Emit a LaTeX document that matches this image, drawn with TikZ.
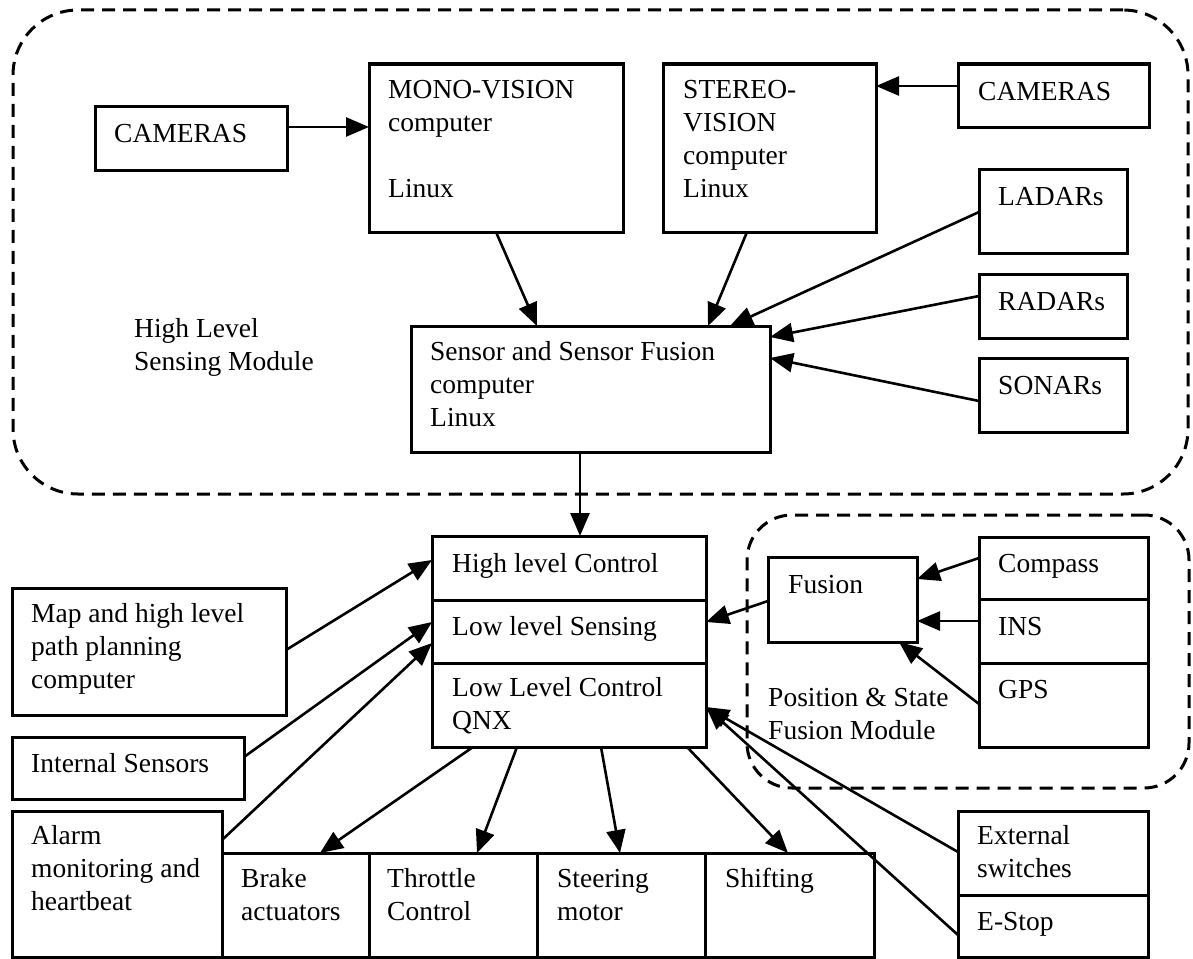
\documentclass[tikz,border=0pt]{standalone}
\usepackage{fontspec}
\setmainfont{Liberation Serif}
\usetikzlibrary{arrows.meta}
\begin{document}
\begin{tikzpicture}[x=1pt,y=-1pt,
  box/.style={draw, line width=3pt, inner sep=0pt, outer sep=0pt, anchor=north west},
  txt/.style={inner sep=0pt, anchor=base west, align=left, font=\fontsize{27.5}{33}\selectfont},
  conn/.style={line width=2.6pt, -{Triangle[length=23pt,width=19pt]}},
  module/.style={draw, line width=3pt, dash pattern=on 13pt off 8pt, inner sep=0pt, outer sep=0pt, anchor=north west}
]
\useasboundingbox (0,0) rectangle (1193,958);

% modules
\node[module, rounded corners=65pt, minimum width=1175pt, minimum height=484pt] (hlsm) at (13,10) {};
\node[module, rounded corners=45pt, minimum width=442pt, minimum height=273pt] (psfm) at (747,515) {};

% boxes
\node[box, minimum width=192pt, minimum height=64pt]  (camL)     at (95,106) {};
\node[box, minimum width=254pt, minimum height=168pt] (mono)     at (369,64) {};
\node[box, minimum width=213pt, minimum height=168pt] (stereo)   at (663,64) {};
\node[box, minimum width=191pt, minimum height=63pt]  (camR)     at (958,64) {};
\node[box, minimum width=148pt, minimum height=84pt]  (ladar)    at (979,169) {};
\node[box, minimum width=148pt, minimum height=64pt]  (radar)    at (979,274) {};
\node[box, minimum width=148pt, minimum height=74pt]  (sonar)    at (979,358) {};
\node[box, minimum width=359pt, minimum height=126pt] (sensor)   at (411,326) {};
\node[box, minimum width=274pt, minimum height=64pt]  (hlc)      at (432,536) {};
\node[box, minimum width=274pt, minimum height=63pt]  (lls)      at (432,600) {};
\node[box, minimum width=274pt, minimum height=84pt]  (llc)      at (432,663) {};
\node[box, minimum width=274pt, minimum height=127pt] (map)      at (12,588) {};
\node[box, minimum width=232pt, minimum height=62pt]  (internal) at (12,737) {};
\node[box, minimum width=210pt, minimum height=146pt] (alarm)    at (12,811) {};
\node[box, minimum width=147pt, minimum height=104pt] (brake)    at (222,853) {};
\node[box, minimum width=168pt, minimum height=104pt] (throttle) at (369,853) {};
\node[box, minimum width=168pt, minimum height=104pt] (steering) at (537,853) {};
\node[box, minimum width=169pt, minimum height=104pt] (shifting) at (705,853) {};
\node[box, minimum width=149pt, minimum height=85pt]  (fusion)   at (768,557) {};
\node[box, minimum width=169pt, minimum height=62pt]  (compass)  at (979,537) {};
\node[box, minimum width=169pt, minimum height=64pt]  (ins)      at (979,599) {};
\node[box, minimum width=169pt, minimum height=84pt]  (gps)      at (979,663) {};
\node[box, minimum width=190pt, minimum height=84pt]  (ext)      at (958,811) {};
\node[box, minimum width=190pt, minimum height=62pt]  (estop)    at (958,895) {};

% texts (anchor = baseline of the last line)
\node[txt] (tcamL)   at (114,142) {CAMERAS};
\node[txt] (tmono)   at (388,197) {MONO-VISION\\computer\\[33pt]Linux};
\node[txt] (tstereo) at (683,197) {STEREO-\\VISION\\computer\\Linux};
\node[txt] (tcamR)   at (978,100) {CAMERAS};
\node[txt] (tladar)  at (998,205) {LADARs};
\node[txt] (tradar)  at (998,310) {RADARs};
\node[txt] (tsonar)  at (998,394) {SONARs};
\node[txt] (tsensor) at (430,426) {Sensor and Sensor Fusion\\computer\\Linux};
\node[txt] (thlsm)   at (134,370) {High Level\\Sensing Module};
\node[txt] (thlc)    at (452,572) {High level Control};
\node[txt] (tlls)    at (452,635) {Low level Sensing};
\node[txt] (tllc)    at (452,729) {Low Level Control\\QNX};
\node[txt] (tmap)    at (31,688)  {Map and high level\\path planning\\computer};
\node[txt] (tint)    at (31,772)  {Internal Sensors};
\node[txt] (talarm)  at (31,910)  {Alarm\\monitoring and\\heartbeat};
\node[txt] (tbrake)  at (241,920) {Brake\\actuators};
\node[txt] (tthr)    at (387,920) {Throttle\\Control};
\node[txt] (tsteer)  at (557,920) {Steering\\motor};
\node[txt] (tshift)  at (725,887) {Shifting};
\node[txt] (tfusion) at (788,593) {Fusion};
\node[txt] (tcomp)   at (998,572) {Compass};
\node[txt] (tins)    at (998,635) {INS};
\node[txt] (tgps)    at (998,698) {GPS};
\node[txt] (tpsfm)   at (768,739) {Position \& State\\Fusion Module};
\node[txt] (text)    at (977,877) {External\\switches};
\node[txt] (testop)  at (977,930) {E-Stop};

% connectors
\draw[conn] ([yshift=-21pt]camL.north east) -- ([yshift=-63pt]mono.north west);
\draw[conn] ([yshift=-22pt]camR.north west) -- ([yshift=-22pt]stereo.north east);
\draw[conn] ([xshift=127pt]mono.south west) -- ([xshift=126pt]sensor.north west);
\draw[conn] ([xshift=84pt]stereo.south west) -- ([xshift=297pt]sensor.north west);
\draw[conn] ([yshift=-43pt]ladar.north west) -- ([xshift=319pt]sensor.north west);
\draw[conn] ([yshift=-22pt]radar.north west) -- ([yshift=-11pt]sensor.north east);
\draw[conn] ([yshift=-43pt]sonar.north west) -- ([yshift=-32pt]sensor.north east);
\draw[conn] ([xshift=169pt]sensor.south west) -- ([xshift=148pt]hlc.north west);
\draw[conn] ([yshift=-62pt]map.north east) -- ([yshift=-24pt]hlc.north west);
\draw[conn] ([yshift=-20pt]internal.north east) -- ([yshift=-22pt]lls.north west);
\draw[conn] ([yshift=-29pt]alarm.north east) -- ([yshift=-43pt]lls.north west);
\draw[conn] ([xshift=41pt]llc.south west) -- ([xshift=98pt]brake.north west);
\draw[conn] ([xshift=85pt]llc.south west) -- ([xshift=108pt]throttle.north west);
\draw[conn] ([xshift=169pt]llc.south west) -- ([xshift=83pt]steering.north west);
\draw[conn] ([xshift=255pt]llc.south west) -- ([xshift=83pt]shifting.north west);
\draw[conn] ([yshift=-44pt]fusion.north west) -- ([yshift=-22pt]lls.north east);
\draw[conn] ([yshift=-21pt]compass.north west) -- ([yshift=-22pt]fusion.north east);
\draw[conn] ([yshift=-22pt]ins.north west) -- ([yshift=-64pt]fusion.north east);
\draw[conn] ([yshift=-41pt]gps.north west) -- ([xshift=131pt]fusion.south west);
\draw[conn] ([yshift=-41pt]ext.north west) -- ([yshift=-44pt]llc.north east);
\draw[conn] ([yshift=-40pt]estop.north west) -- ([yshift=-44pt]llc.north east);
\end{tikzpicture}
\end{document}
